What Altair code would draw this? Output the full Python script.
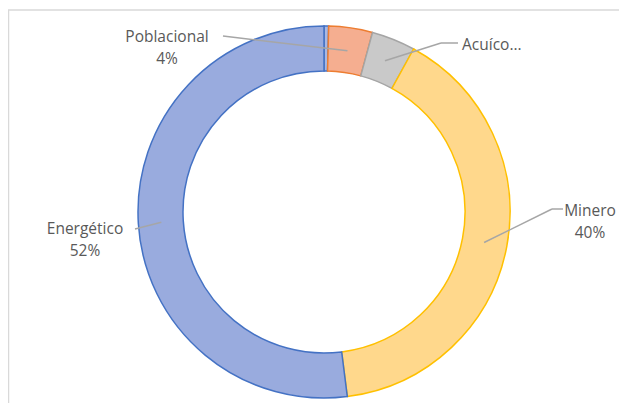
import altair as alt
import pandas as pd

# ---- data ----
categories = ["Otro", "Poblacional", "Acuícola", "Minero", "Energético"]
values = [0.4, 3.8, 3.8, 40.0, 52.0]
label_texts = ["", "Poblacional\n4%", "Acuíco...", "Minero\n40%", "Energético\n52%"]

fills = ["#A9B8E3", "#F5AE90", "#C9C9C9", "#FFD88C", "#99ABDE"]
strokes = ["#4472C4", "#ED7D31", "#A5A5A5", "#FFC000", "#4472C4"]

# ---- layout (pixel positions in chart coords) ----
CX, CY = 316, 204
R_IN, R_OUT, R_LEAD = 141, 186, 163
layout = {
    "Poblacional": dict(tx=159, ty=29, align="center", ex=215, ey=28, lx=215, ly=28),
    "Acuícola": dict(tx=454, ty=37, align="left", ex=433, ey=35, lx=450, ly=35),
    "Minero": dict(tx=582, ty=203, align="center", ex=544, ey=201, lx=555, ly=201),
    "Energético": dict(tx=77, ty=221, align="center", ex=127, ey=221, lx=127, ly=221),
}

df = pd.DataFrame({"cat": categories, "value": values, "idx": list(range(len(categories))),
                   "label": label_texts})
lay = pd.DataFrame([dict(cat=k, **v) for k, v in layout.items()])
df = df.merge(lay, on="cat", how="left")

W, H = 611, 395

frame = alt.Chart(pd.DataFrame({"a": [0]})).mark_rect(
    fill=None, stroke="#D9D9D9", strokeWidth=1.5
).encode(x=alt.value(0.5), y=alt.value(2), x2=alt.value(W + 20), y2=alt.value(H + 20))

base = alt.Chart(df)

arcs = base.mark_arc(innerRadius=R_IN, outerRadius=R_OUT, strokeWidth=1.5).encode(
    theta=alt.Theta("value:Q", stack=True),
    order=alt.Order("idx:Q"),
    color=alt.Color("cat:N", scale=alt.Scale(domain=categories, range=fills), legend=None),
    stroke=alt.Stroke("cat:N", scale=alt.Scale(domain=categories, range=strokes), legend=None),
    x=alt.value(CX), y=alt.value(CY),
)

lead_base = base.transform_joinaggregate(total="sum(value)").transform_window(
    cum="sum(value)", sort=[alt.SortField("idx")], frame=[None, 0]
).transform_calculate(
    mid="(datum.cum - datum.value/2) / datum.total * 2 * PI",
).transform_calculate(
    sx=f"{CX} + {R_LEAD} * sin(datum.mid)",
    sy=f"{CY} - {R_LEAD} * cos(datum.mid)",
).transform_filter("datum.label != ''")

lead1 = lead_base.mark_rule(color="#A6A6A6", strokeWidth=1.5).encode(
    x=alt.X("sx:Q", scale=None, axis=None), y=alt.Y("sy:Q", scale=None, axis=None),
    x2="ex:Q", y2="ey:Q",
)
lead2 = lead_base.mark_rule(color="#A6A6A6", strokeWidth=1.5).encode(
    x=alt.X("ex:Q", scale=None, axis=None), y=alt.Y("ey:Q", scale=None, axis=None),
    x2="lx:Q", y2="ly:Q",
)

def label_layer(align):
    return base.transform_filter(
        f"datum.align == '{align}'"
    ).mark_text(
        align=align, baseline="middle", lineBreak="\n", lineHeight=21.5,
        font="Open Sans", fontSize=15.5, color="#595959",
    ).encode(
        x=alt.X("tx:Q", scale=None, axis=None), y=alt.Y("ty:Q", scale=None, axis=None),
        text="label:N",
    )

chart = alt.layer(
    frame, arcs, lead1, lead2, label_layer("center"), label_layer("left")
).properties(
    width=W, height=H, autosize=alt.AutoSizeParams(type="none"), padding=0
).configure_view(stroke=None)

chart.save("out.html", embed_options={"renderer": "svg", "actions": False})
